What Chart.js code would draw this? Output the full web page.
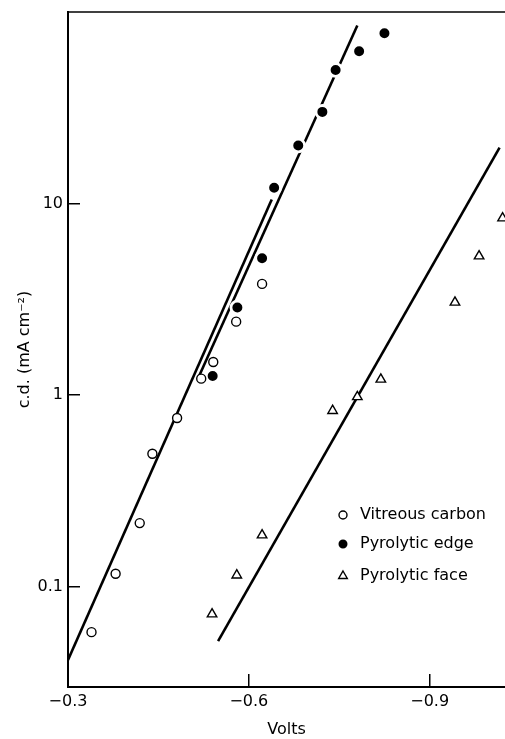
<!DOCTYPE html>
<html>
<head>
<meta charset="utf-8">
<script src="https://cdn.jsdelivr.net/npm/chart.js@4.4.1/dist/chart.umd.min.js"></script>
<style>
  html, body { margin: 0; padding: 0; background: #fff; }
  #wrap { width: 505px; height: 739px; position: relative; }
</style>
</head>
<body>
<div id="wrap"><canvas id="c"></canvas></div>
<script>
// Tafel data: electrode potential (V) against current density (mA cm^-2)
const vitreousV  = [-0.339, -0.379, -0.419, -0.440, -0.481, -0.521, -0.541, -0.579, -0.622];
const vitreousCD = [0.058, 0.117, 0.215, 0.495, 0.76, 1.22, 1.49, 2.42, 3.81];

const edgeV  = [-0.540, -0.581, -0.622, -0.642, -0.682, -0.722, -0.744, -0.783, -0.825];
const edgeCD = [1.26, 2.87, 5.19, 12.1, 20.1, 30.1, 49.8, 62.4, 77.5];

const faceV  = [-0.539, -0.580, -0.622, -0.739, -0.780, -0.819, -0.942, -0.982, -1.021];
const faceCD = [0.072, 0.115, 0.186, 0.83, 0.98, 1.21, 3.05, 5.32, 8.4];

// Fitted Tafel lines (end points)
const vitreousFitV  = [-0.300, -0.638];
const vitreousFitCD = [0.0415, 10.5];
const edgeFitV  = [-0.516, -0.780];
const edgeFitCD = [1.23, 85];
const faceFitV  = [-0.549, -1.016];
const faceFitCD = [0.052, 19.6];

// Axis ticks
const xTicks = [-0.3, -0.6, -0.9];
const yTicks = [0.1, 1, 10];

const FONT = "'DejaVu Sans', sans-serif";
const pairs = (xs, ys) => xs.map((x, i) => ({ x: x, y: ys[i] }));

// Marker series; 'halo' is a white ring that breaks the fit line around a dot
const markerSet = (label, xs, ys, style, fill, r, edge, bw) => ({
  type: 'scatter',
  label: label,
  data: pairs(xs, ys),
  pointStyle: style,
  pointRadius: r,
  pointHoverRadius: r,
  pointBackgroundColor: fill,
  pointBorderColor: edge,
  pointBorderWidth: bw,
  showLine: false,
  order: 1
});

const fitSet = (xs, ys) => ({
  type: 'line',
  label: '',
  data: pairs(xs, ys),
  borderColor: '#000',
  borderWidth: 2.6,
  pointRadius: 0,
  pointHoverRadius: 0,
  fill: false,
  tension: 0,
  order: 2
});

// Frame line across the top of the plot
const framePlugin = {
  id: 'frameTop',
  afterDraw(chart) {
    const { ctx, chartArea } = chart;
    ctx.save();
    ctx.strokeStyle = '#000';
    ctx.lineWidth = 1.6;
    ctx.beginPath();
    ctx.moveTo(chartArea.left - 1, chartArea.top);
    ctx.lineTo(chart.width, chartArea.top);
    ctx.stroke();
    ctx.restore();
  }
};

// Key of marker styles in the lower right of the plot
const keyPlugin = {
  id: 'markerKey',
  afterDraw(chart) {
    const { ctx, chartArea } = chart;
    const x0 = chartArea.left + 275;
    const rows = [503, 532, 564];
    const sets = chart.data.datasets.filter(d => d.label);
    sets.forEach((d, i) => {
      const y = chartArea.top + rows[i];
      ctx.save();
      ctx.fillStyle = d.pointBackgroundColor;
      ctx.strokeStyle = d.pointBorderColor;
      ctx.lineWidth = d.pointBorderWidth;
      Chart.helpers.drawPoint(ctx, {
        pointStyle: d.pointStyle,
        radius: d.pointRadius - 0.5,
        borderWidth: d.pointBorderWidth,
        rotation: 0
      }, x0, y);
      ctx.restore();
      ctx.save();
      ctx.font = "16px " + FONT;
      ctx.textBaseline = 'middle';
      ctx.textAlign = 'left';
      ctx.fillStyle = '#000';
      ctx.fillText(d.label, x0 + 17, y);
      ctx.restore();
    });
  }
};

new Chart(document.getElementById('c'), {
  data: {
    datasets: [
      markerSet('Vitreous carbon', vitreousV, vitreousCD, 'circle', '#fff', 4.5, '#000', 1.4),
      markerSet('Pyrolytic edge', edgeV, edgeCD, 'circle', '#000', 6.4, '#fff', 2.8),
      markerSet('Pyrolytic face', faceV, faceCD, 'triangle', '#fff', 5.5, '#000', 1.4),
      fitSet(vitreousFitV, vitreousFitCD),
      fitSet(edgeFitV, edgeFitCD),
      fitSet(faceFitV, faceFitCD)
    ]
  },
  options: {
    responsive: true,
    maintainAspectRatio: false,
    animation: false,
    events: [],
    layout: { autoPadding: false, padding: { top: 12, left: 0, right: 0, bottom: 0 } },
    plugins: { legend: { display: false }, tooltip: { enabled: false } },
    scales: {
      x: {
        type: 'linear',
        reverse: true,
        min: -1.025,
        max: -0.3,
        afterBuildTicks: s => { s.ticks = xTicks.map(v => ({ value: v })); },
        afterFit: s => { s.height = 52; s.paddingLeft = 0; s.paddingRight = 0; },
        ticks: {
          callback: v => (v < 0 ? '\u2212' : '') + Math.abs(v).toFixed(1),
          font: { family: FONT, size: 16 },
          color: '#000',
          padding: 18,
          maxRotation: 0,
          autoSkip: false
        },
        grid: { drawOnChartArea: false, tickLength: -13, color: '#000', lineWidth: 1.5 },
        border: { color: '#000', width: 2 },
        title: {
          display: true,
          text: 'Volts',
          color: '#000',
          font: { family: FONT, size: 16 },
          padding: { top: 0, bottom: 0 }
        }
      },
      y: {
        type: 'logarithmic',
        min: 0.03,
        max: 100,
        afterBuildTicks: s => { s.ticks = yTicks.map(v => ({ value: v })); },
        afterFit: s => { s.width = 68; s.paddingTop = 0; s.paddingBottom = 0; },
        ticks: {
          callback: v => String(v),
          font: { family: FONT, size: 16 },
          color: '#000',
          padding: 17,
          autoSkip: false
        },
        grid: { drawOnChartArea: false, tickLength: -12, color: '#000', lineWidth: 1.5 },
        border: { color: '#000', width: 2 },
        title: {
          display: true,
          text: 'c.d. (mA cm\u207B\u00B2)',
          color: '#000',
          font: { family: FONT, size: 16 },
          padding: { top: 15, bottom: 0 }
        }
      }
    }
  },
  plugins: [framePlugin, keyPlugin]
});
</script>
</body>
</html>
